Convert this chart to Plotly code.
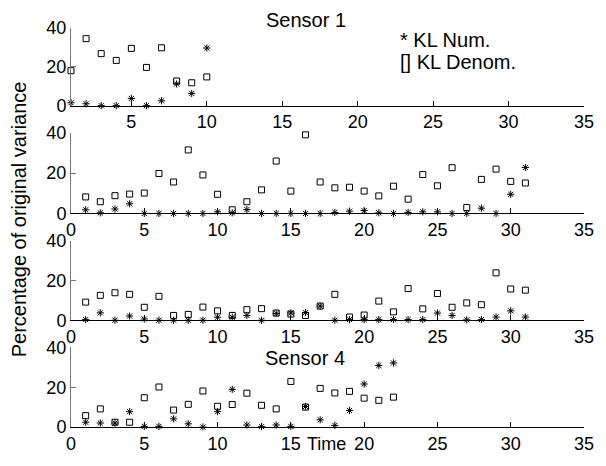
import plotly.graph_objects as go

x1 = list(range(1, 11))
num1 = [1.5, 1.0, 0.0, 0.0, 3.7, 0.0, 2.5, 11.2, 6.3, 29.7]
den1 = [18.0, 34.5, 26.8, 23.3, 29.5, 19.7, 29.8, 12.7, 11.8, 14.8]

x2 = list(range(1, 32))
num2 = [1.8, 0.3, 2.2, 4.8, 0.0, 0.0, 0.0, 0.0, 0.0, 0.8, 0.3, 1.9, 0.0, 0.0, 0.0, 0.0,
        0.0, 0.5, 1.1, 1.4, 0.3, 0.0, 0.5, 0.8, 0.8, 0.0, 0.0, 2.6, 0.0, 9.5, 22.8]
den2 = [8.2, 5.8, 8.8, 9.6, 10.1, 19.8, 15.6, 31.5, 19.1, 9.5, 1.8, 5.8, 11.7, 26.0, 11.1, 39.0,
        15.6, 12.7, 13.0, 11.1, 8.7, 13.5, 7.1, 19.3, 13.7, 22.7, 2.9, 16.9, 22.0, 15.9, 15.1]

x3 = list(range(1, 32))
num3 = [0.3, 3.7, 0.0, 2.1, 0.6, 0.0, 0.0, 0.0, 0.0, 1.5, 1.5, 2.4, 0.0, 3.4, 3.6, 3.8,
        7.1, 0.0, 0.3, 0.3, 0.3, 0.3, 0.3, 0.3, 3.6, 2.4, 0.2, 0.3, 1.6, 4.7, 1.6]
den3 = [9.1, 12.5, 13.8, 13.0, 6.5, 12.0, 2.4, 2.9, 6.6, 4.7, 2.4, 5.3, 5.8, 3.6, 3.1, 2.4,
        7.1, 13.0, 1.6, 2.6, 9.6, 4.2, 15.9, 5.7, 13.4, 6.5, 8.7, 7.8, 23.8, 15.7, 15.1]

x4 = list(range(1, 23))
num4 = [2.4, 2.0, 2.0, 7.7, 0.3, 0.3, 4.1, 1.6, 0.0, 7.7, 18.9, 1.0, 0.2, 1.0, 0.3, 10.3,
        3.6, 0.8, 8.3, 21.6, 30.9, 32.2]
den4 = [5.7, 9.1, 2.4, 2.4, 14.7, 20.1, 8.5, 11.4, 18.1, 10.4, 11.3, 17.0, 10.9, 9.1, 22.9, 10.0,
        19.4, 17.1, 17.9, 14.5, 13.4, 15.0]

xs = [x1, x2, x3, x4]
nums = [num1, num2, num3, num4]
dens = [den1, den2, den3, den4]
x_ranges = [[1, 35], [0, 35], [0, 35], [0, 35]]
x_ticks = [[5, 10, 15, 20, 25, 30, 35], [0, 5, 10, 15, 20, 25, 30, 35],
           [0, 5, 10, 15, 20, 25, 30, 35], [0, 5, 10, 15, 20, 25, 30, 35]]
y_ticks = [0, 20, 40]

# pixel geometry: plot area x 71..594, y 28..439
W, HT = 606, 466
L, R, T, B = 71, 594, 28, 439
H = B - T
def py(p):
    return (B - p) / H
def px(p):
    return (p - L) / (R - L)

panel_px = [(28, 108), (136, 219), (247, 329), (357, 439)]

fig = go.Figure()
tfont = dict(family="Liberation Sans, Arial, sans-serif", size=18, color="black")
afont = dict(family="Liberation Sans, Arial, sans-serif", size=20, color="black")

for i in range(4):
    xa = "x" if i == 0 else f"x{i+1}"
    ya = "y" if i == 0 else f"y{i+1}"
    fig.add_trace(go.Scatter(x=xs[i], y=dens[i], mode="markers", xaxis=xa, yaxis=ya,
                             marker=dict(symbol="square-open", size=6, color="black",
                                         line=dict(width=1, color="black")),
                             cliponaxis=False, showlegend=False))
    fig.add_trace(go.Scatter(x=xs[i], y=nums[i], mode="markers", xaxis=xa, yaxis=ya,
                             marker=dict(symbol="asterisk-open", size=6, color="black",
                                         line=dict(width=1, color="black")),
                             cliponaxis=False, showlegend=False))
    top, bot = panel_px[i]
    xkey = "xaxis" if i == 0 else f"xaxis{i+1}"
    ykey = "yaxis" if i == 0 else f"yaxis{i+1}"
    fig.layout[xkey] = dict(range=x_ranges[i], tickvals=x_ticks[i], ticks="inside", ticklen=5,
                            tickcolor="black", showline=True, linecolor="black", linewidth=1,
                            showgrid=False, zeroline=False, anchor=ya, domain=[0, 1],
                            tickfont=tfont, ticklabeloverflow="allow")
    fig.layout[ykey] = dict(range=[0, 40], tickvals=y_ticks, ticks="inside", ticklen=5,
                            tickcolor="#777777", showline=True, linecolor="#777777", linewidth=1,
                            showgrid=False, zeroline=False, anchor=xa,
                            domain=[py(bot), py(top)], tickfont=tfont)

annots = [
    dict(text="Sensor 1", x=px(311), y=py(20), xanchor="center", yanchor="middle", font=afont),
    dict(text="* KL Num.", x=px(404), y=py(40), xanchor="left", yanchor="middle", font=afont),
    dict(text="[] KL Denom.", x=px(404), y=py(63), xanchor="left", yanchor="middle", font=afont),
    dict(text="Sensor 4", x=px(310), y=py(368), xanchor="center", yanchor="middle", font=afont),
    dict(text="Time", x=px(331), y=py(457), xanchor="center", yanchor="middle", font=tfont),
    dict(text="Percentage of original variance", x=px(18), y=py(225), xanchor="center",
         yanchor="middle", textangle=-90, font=afont),
]
for a in annots:
    fig.add_annotation(xref="paper", yref="paper", showarrow=False, **a)

fig.update_layout(width=W, height=HT, autosize=False,
                  margin=dict(l=L, r=W - R, t=T, b=HT - B),
                  paper_bgcolor="white", plot_bgcolor="white", font=tfont)

fig.write_html("out.html",
               config={"displayModeBar": False},
               post_script="document.body.style.margin='0';document.body.style.overflow='hidden';")
